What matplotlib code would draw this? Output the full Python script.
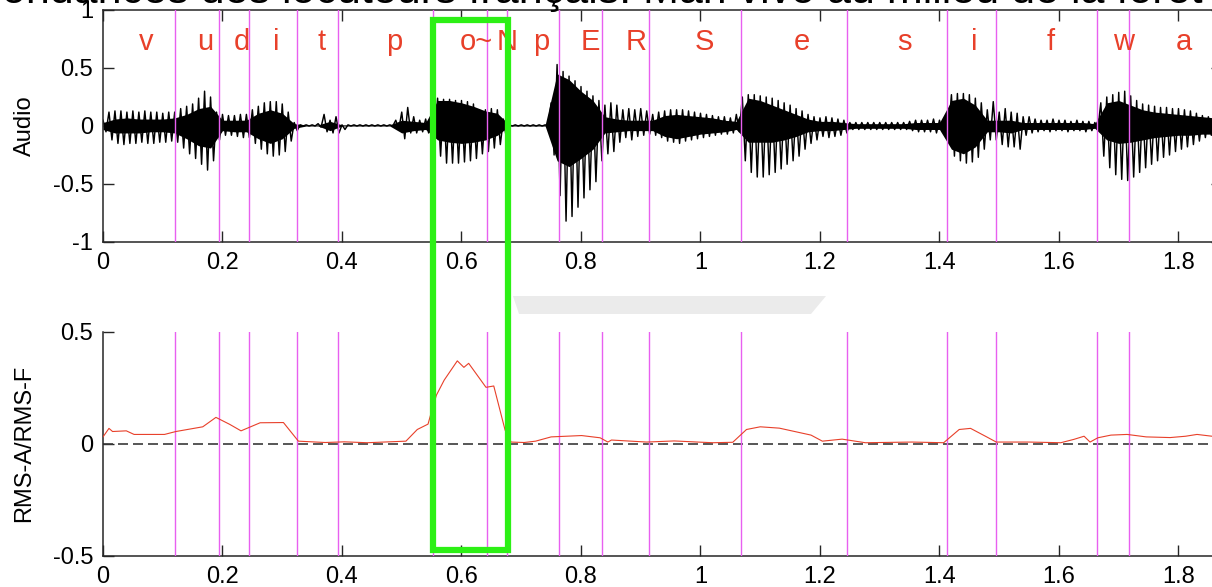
"""
Audio waveform with phone segmentation and RMS-A/RMS-F ratio
"""
import matplotlib.pyplot as plt
import matplotlib.patches as mpatches
import numpy as np

plt.rcParams['font.family'] = ['Liberation Sans', 'DejaVu Sans']
plt.rcParams['axes.unicode_minus'] = False

# ---------- data ----------
# phone segment edges (s) and labels
seg_edges = [0, 0.121, 0.194, 0.244, 0.325, 0.394, 0.552, 0.642, 0.676, 0.764,
             0.835, 0.914, 1.067, 1.245, 1.413, 1.494, 1.663, 1.718, 1.874]
phones = ['v', 'u', 'd', 'i', 't', 'p', 'o~', 'N', 'p', 'E', 'R', 'S', 'e', 's',
          'i', 'f', 'w', 'a']

# audio envelope every 10 ms: upper / lower peaks
env_step = 0.01
env_hi = [0.05, 0.12, 0.13, 0.13, 0.12, 0.13, 0.12, 0.13, 0.12, 0.12,
          0.11, 0.12, 0.12, 0.15, 0.17, 0.19, 0.24, 0.30, 0.25, 0.12,
          0.10, 0.09, 0.09, 0.10, 0.10, 0.14, 0.17, 0.20, 0.21, 0.21,
          0.19, 0.12, 0.03, 0.01, 0.01, 0.01, 0.02, 0.10, 0.05, 0.08,
          0.01, 0.01, 0.01, 0.01, 0.01, 0.01, 0.01, 0.01, 0.01, 0.05,
          0.12, 0.16, 0.08, 0.05, 0.06, 0.10, 0.24, 0.23, 0.23, 0.22,
          0.22, 0.21, 0.19, 0.14, 0.14, 0.15, 0.14, 0.06, 0.01, 0.01,
          0.01, 0.01, 0.01, 0.01, 0.01, 0.20, 0.53, 0.47, 0.43, 0.39,
          0.34, 0.30, 0.26, 0.22, 0.18, 0.20, 0.18, 0.14, 0.15, 0.14,
          0.15, 0.13, 0.10, 0.12, 0.13, 0.14, 0.14, 0.14, 0.13, 0.12,
          0.11, 0.10, 0.09, 0.08, 0.08, 0.07, 0.10, 0.25, 0.27, 0.27,
          0.26, 0.25, 0.24, 0.22, 0.20, 0.18, 0.15, 0.13, 0.10, 0.08,
          0.07, 0.08, 0.07, 0.06, 0.05, 0.03, 0.03, 0.03, 0.03, 0.03,
          0.03, 0.03, 0.03, 0.03, 0.03, 0.04, 0.05, 0.05, 0.05, 0.06,
          0.05, 0.05, 0.27, 0.28, 0.28, 0.27, 0.24, 0.20, 0.14, 0.21,
          0.12, 0.15, 0.12, 0.11, 0.08, 0.08, 0.06, 0.05, 0.05, 0.06,
          0.05, 0.05, 0.04, 0.05, 0.04, 0.04, 0.03, 0.20, 0.25, 0.27,
          0.29, 0.30, 0.26, 0.22, 0.19, 0.18, 0.17, 0.16, 0.16, 0.15,
          0.15, 0.14, 0.13, 0.11, 0.09, 0.08, 0.07, 0.06]
env_lo = [-0.05, -0.12, -0.15, -0.16, -0.15, -0.15, -0.14, -0.15, -0.15, -0.14,
          -0.14, -0.13, -0.14, -0.19, -0.24, -0.28, -0.33, -0.38, -0.30, -0.12,
          -0.08, -0.08, -0.09, -0.10, -0.10, -0.15, -0.20, -0.24, -0.26, -0.25,
          -0.22, -0.13, -0.04, 0.0, 0.0, 0.0, -0.01, -0.05, -0.06, -0.06,
          -0.03, 0.0, 0.0, 0.0, 0.0, 0.0, 0.0, 0.0, 0.0, -0.03,
          -0.11, -0.06, -0.06, -0.05, -0.06, -0.10, -0.26, -0.32, -0.32, -0.32,
          -0.31, -0.30, -0.28, -0.24, -0.22, -0.19, -0.16, -0.10, 0.0, 0.0,
          0.0, 0.0, 0.0, 0.0, 0.0, -0.25, -0.60, -0.82, -0.78, -0.70,
          -0.62, -0.55, -0.48, -0.30, -0.24, -0.22, -0.14, -0.10, -0.12, -0.09,
          -0.08, -0.07, -0.08, -0.10, -0.13, -0.14, -0.15, -0.13, -0.12, -0.11,
          -0.10, -0.09, -0.08, -0.07, -0.07, -0.06, -0.05, -0.30, -0.40, -0.44,
          -0.44, -0.42, -0.40, -0.37, -0.33, -0.30, -0.26, -0.20, -0.15, -0.12,
          -0.09, -0.10, -0.09, -0.08, -0.06, -0.03, -0.03, -0.03, -0.03, -0.03,
          -0.03, -0.03, -0.03, -0.03, -0.03, -0.04, -0.05, -0.05, -0.05, -0.06,
          -0.05, -0.05, -0.26, -0.30, -0.32, -0.31, -0.27, -0.20, -0.12, -0.12,
          -0.16, -0.18, -0.18, -0.20, -0.08, -0.06, -0.05, -0.04, -0.05, -0.04,
          -0.04, -0.05, -0.04, -0.04, -0.05, -0.04, -0.03, -0.26, -0.36, -0.42,
          -0.46, -0.47, -0.44, -0.40, -0.36, -0.33, -0.30, -0.27, -0.25, -0.22,
          -0.20, -0.18, -0.16, -0.13, -0.10, -0.08, -0.07, -0.06]

# dense core of the waveform every 20 ms
core_step = 0.02
core_hi = [0.03, 0.06, 0.07, 0.06, 0.06, 0.06, 0.07, 0.10, 0.15, 0.17,
           0.05, 0.05, 0.05, 0.11, 0.14, 0.11, 0.02, 0.01, 0.01, 0.04,
           0.01, 0.01, 0.01, 0.01, 0.01, 0.05, 0.04, 0.03, 0.22, 0.22,
           0.20, 0.17, 0.13, 0.11, 0.01, 0.01, 0.01, 0.01, 0.45, 0.40,
           0.30, 0.22, 0.08, 0.06, 0.05, 0.05, 0.05, 0.09, 0.10, 0.09,
           0.08, 0.07, 0.05, 0.04, 0.24, 0.22, 0.18, 0.14, 0.10, 0.06,
           0.04, 0.04, 0.03, 0.02, 0.02, 0.02, 0.02, 0.02, 0.03, 0.03,
           0.03, 0.22, 0.24, 0.18, 0.05, 0.05, 0.05, 0.03, 0.03, 0.03,
           0.03, 0.03, 0.03, 0.02, 0.20, 0.22, 0.18, 0.14, 0.12, 0.11,
           0.10, 0.09, 0.08, 0.07]
core_lo = [-0.03, -0.06, -0.06, -0.06, -0.05, -0.05, -0.06, -0.11, -0.17, -0.19,
           -0.04, -0.05, -0.05, -0.11, -0.15, -0.11, -0.02, 0.0, 0.0, -0.04,
           0.0, 0.0, 0.0, 0.0, 0.0, -0.06, -0.04, -0.03, -0.12, -0.14,
           -0.15, -0.14, -0.12, -0.08, 0.0, 0.0, 0.0, 0.0, -0.30, -0.35,
           -0.28, -0.20, -0.06, -0.05, -0.04, -0.04, -0.04, -0.09, -0.11, -0.09,
           -0.07, -0.06, -0.05, -0.03, -0.14, -0.14, -0.14, -0.12, -0.09, -0.05,
           -0.04, -0.04, -0.03, -0.02, -0.02, -0.02, -0.02, -0.02, -0.03, -0.03,
           -0.03, -0.20, -0.24, -0.18, -0.05, -0.05, -0.06, -0.03, -0.03, -0.03,
           -0.03, -0.03, -0.03, -0.02, -0.12, -0.15, -0.14, -0.12, -0.10, -0.09,
           -0.08, -0.08, -0.07, -0.07]

# RMS-A / RMS-F ratio
rms_t = [0.0, 0.010, 0.016, 0.039, 0.052, 0.103, 0.122, 0.167, 0.189, 0.212,
         0.231, 0.263, 0.302, 0.327, 0.372, 0.404, 0.442, 0.507, 0.526, 0.544,
         0.549, 0.558, 0.571, 0.593, 0.604, 0.612, 0.641, 0.654, 0.673, 0.683,
         0.705, 0.724, 0.750, 0.801, 0.832, 0.845, 0.851, 0.910, 0.956, 0.995,
         1.021, 1.054, 1.077, 1.100, 1.132, 1.185, 1.204, 1.237, 1.276, 1.354,
         1.407, 1.433, 1.452, 1.479, 1.495, 1.550, 1.603, 1.625, 1.642, 1.652,
         1.665, 1.687, 1.714, 1.746, 1.786, 1.812, 1.831, 1.856, 1.872]
rms_v = [0.031, 0.069, 0.055, 0.058, 0.042, 0.042, 0.055, 0.076, 0.118, 0.087,
         0.058, 0.094, 0.095, 0.012, 0.006, 0.009, 0.005, 0.012, 0.064, 0.088,
         0.136, 0.217, 0.284, 0.370, 0.341, 0.359, 0.252, 0.258, 0.061, 0.008,
         0.006, 0.012, 0.031, 0.037, 0.027, 0.008, 0.017, 0.008, 0.013, 0.008,
         0.005, 0.007, 0.064, 0.076, 0.070, 0.039, 0.012, 0.021, 0.005, 0.008,
         0.005, 0.064, 0.069, 0.031, 0.008, 0.008, 0.005, 0.020, 0.034, 0.008,
         0.027, 0.039, 0.042, 0.031, 0.028, 0.034, 0.042, 0.034, 0.034]

xticks = [0, 0.2, 0.4, 0.6, 0.8, 1.0, 1.2, 1.4, 1.6, 1.8]
xtick_labels = ['0', '0.2', '0.4', '0.6', '0.8', '1', '1.2', '1.4', '1.6', '1.8']
title_text = 'ondances des locuteurs français. Mari vivo au milieu de la forêt'

# ---------- layout (pixels of a 1212x587 canvas) ----------
W, H = 1212, 587
fig = plt.figure(figsize=(W / 100, H / 100), dpi=100)
fig.patch.set_facecolor('white')

ax1 = fig.add_axes([103 / W, 1 - 242 / H, 1118.5 / W, 232 / H])
ax2 = fig.add_axes([103 / W, 1 - 556 / H, 1118.5 / W, 224.3 / H])

PURPLE = '#e860f0'
RED = '#e8402a'
AXC = '#262626'

bounds = seg_edges[1:-1]
mids = [(a + b) / 2 for a, b in zip(seg_edges[:-1], seg_edges[1:])]

# ========== top: audio ==========
t_env = np.arange(len(env_hi)) * env_step
zx = np.empty(2 * len(env_hi))
zy = np.empty(2 * len(env_hi))
zx[0::2] = t_env
zx[1::2] = t_env + env_step / 2
zy[0::2] = env_hi
zy[1::2] = env_lo
t_core = np.arange(len(core_hi)) * core_step
ax1.fill_between(t_core, core_lo, core_hi, color='black', lw=0, zorder=2)
ax1.plot(zx, zy, color='black', lw=1.05, zorder=2)
for b in bounds:
    ax1.axvline(b, color=PURPLE, lw=1.0, zorder=3)
for m, ph in zip(mids, phones):
    ax1.text(m, 0.655, ph, color=RED, fontsize=21, ha='left', va='baseline',
             zorder=4, clip_on=True)
ax1.set_xlim(0, 1.872)
ax1.set_ylim(-1, 1)
ax1.set_yticks([-1, -0.5, 0, 0.5, 1])
ax1.set_yticklabels(['-1', '-0.5', '0', '0.5', '1'])

# ========== bottom: RMS ratio ==========
ax2.axhline(0, color='#3a3a3a', lw=1.2, ls=(0, (6, 3)), zorder=2)
for b in bounds:
    ax2.axvline(b, color=PURPLE, lw=1.0, zorder=3)
ax2.plot(rms_t, rms_v, color=RED, lw=0.8, zorder=4)
ax2.set_xlim(0, 1.872)
ax2.set_ylim(-0.5, 0.5)
ax2.set_yticks([-0.5, 0, 0.5])
ax2.set_yticklabels(['-0.5', '0', '0.5'])
ax2.spines['top'].set_visible(False)
ax2.spines['right'].set_visible(False)

for ax in (ax1, ax2):
    ax.set_xticks(xticks)
    ax.set_xticklabels(xtick_labels)
    for s in ax.spines.values():
        s.set_color(AXC)
        s.set_linewidth(1.1)
    ax.tick_params(direction='in', length=8, width=1.0, color=AXC,
                   labelsize=17, pad=7)
ax1.tick_params(top=True, right=True)
ax2.tick_params(top=False, right=False)

fig.text(25 / W, 1 - 126 / H, 'Audio', rotation=90, ha='center', va='center',
         fontsize=17)
fig.text(24 / W, 1 - 443 / H, 'RMS-A/RMS-F', rotation=90, ha='center',
         va='center', fontsize=17)

# cut-off title line at the very top
fig.text(2 / W, 1 - 3 / H, title_text, fontsize=31, ha='left', va='baseline')

# grey shadow between the panels
shadow = mpatches.Polygon([(513 / W, 1 - 296 / H), (826 / W, 1 - 296 / H),
                           (811 / W, 1 - 314 / H), (519 / W, 1 - 314 / H)],
                          closed=True, transform=fig.transFigure,
                          facecolor='#ebebeb', edgecolor='none', zorder=1)
fig.add_artist(shadow)

# green highlight box
box = mpatches.Rectangle((433 / W, 1 - 550 / H), 75 / W, 530 / H,
                         transform=fig.transFigure, fill=False,
                         edgecolor='#2cf015', linewidth=4.5, zorder=10)
fig.add_artist(box)

plt.savefig('out.png', dpi=100, facecolor='white')
